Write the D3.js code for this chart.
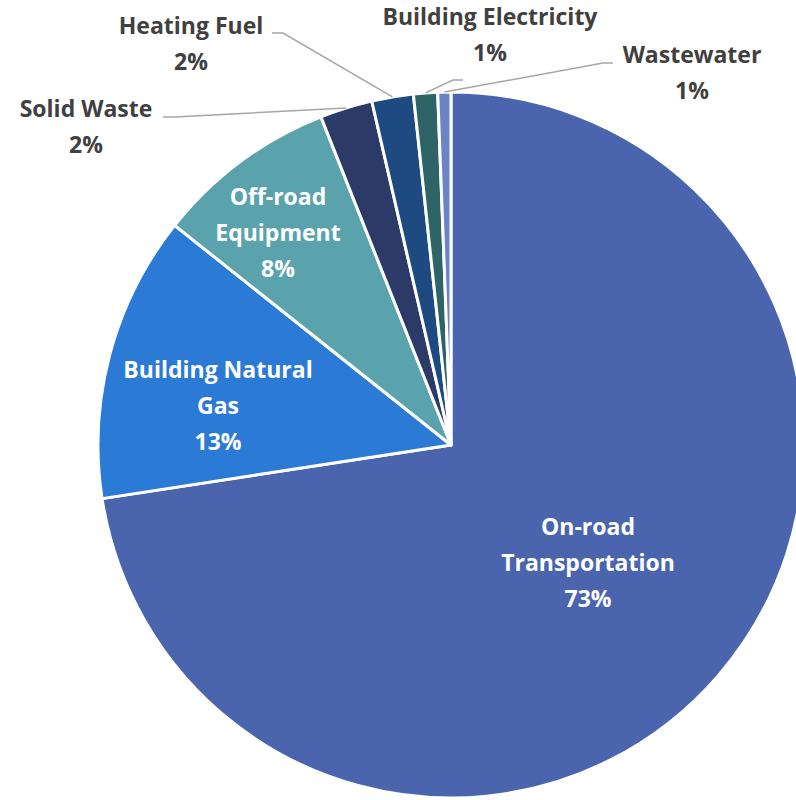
<!DOCTYPE html>
<html>
<head>
<meta charset="utf-8">
<script src="https://cdn.jsdelivr.net/npm/d3@7"></script>
<style>
    body { margin: 0; background: #fff; }
    svg { display: block; }
    .lbl { font-family: "Open Sans", Lato, sans-serif; font-weight: bold; font-size: 23px; }
</style>
</head>
<body>
<svg id="pie" width="796" height="800"></svg>
<script>
    // shares of emissions (percent)
    var categories = ["On-road Transportation", "Building Natural Gas", "Off-road Equipment",
        "Solid Waste", "Heating Fuel", "Building Electricity", "Wastewater"];
    var values = [72.5, 13.1, 8.3, 2.4, 1.9, 1.1, 0.6];
    var pctLabels = ["73%", "13%", "8%", "2%", "2%", "1%", "1%"];
    var colors = ["#4a65ad", "#2b7bd6", "#5aa3ad", "#2b3a66", "#1d4a80", "#2e6466", "#6b84c4"];

    // label layout: line breaks, centre of text block, inside or outside
    var labelLines = [["On-road", "Transportation"], ["Building Natural", "Gas"], ["Off-road", "Equipment"],
        ["Solid Waste"], ["Heating Fuel"], ["Building Electricity"], ["Wastewater"]];
    var labelPos = [[588, 527], [218, 370], [278, 197], [86, 109], [191, 26], [490, 17], [692, 55]];
    // leader elbows for outside labels: [elbow x, elbow y, end x]
    var leaders = [null, null, null, [175, 117, 163], [283, 33, 272], [453, 80, 463], [603, 63, 613]];

    var svg = d3.select("#pie"),
        cx = 451, cy = 445, radius = 353;

    var pie = d3.pie().sort(null).value(function (d) { return d; });
    var arc = d3.arc().innerRadius(0).outerRadius(radius);
    var arcs = pie(values);

    var g = svg.append("g").attr("transform", "translate(" + cx + "," + cy + ")");

    g.selectAll("path.slice")
        .data(arcs)
        .enter().append("path")
        .attr("class", "slice")
        .attr("d", arc)
        .attr("fill", function (d, i) { return colors[i]; })
        .attr("stroke", "#fff")
        .attr("stroke-width", 3)
        .attr("stroke-linejoin", "round");

    // leader lines
    arcs.forEach(function (d, i) {
        if (!leaders[i]) return;
        var a = (d.startAngle + d.endAngle) / 2;
        var sx = cx + radius * Math.sin(a), sy = cy - radius * Math.cos(a);
        var L = leaders[i];
        svg.append("polyline")
            .attr("points", [[sx, sy], [L[0], L[1]], [L[2], L[1]]].map(function (p) { return p.join(","); }).join(" "))
            .attr("fill", "none")
            .attr("stroke", "#a6a6a6")
            .attr("stroke-width", 1.5);
    });

    // labels
    arcs.forEach(function (d, i) {
        var inside = !leaders[i];
        var lines = labelLines[i].concat([pctLabels[i]]);
        var t = svg.append("text")
            .attr("class", "lbl")
            .attr("text-anchor", "middle")
            .attr("fill", inside ? "#ffffff" : "#404040");
        lines.forEach(function (s, k) {
            t.append("tspan")
                .attr("x", labelPos[i][0])
                .attr("y", labelPos[i][1] + k * 36)
                .attr("dy", "0.35em")
                .text(s);
        });
    });
</script>
</body>
</html>
